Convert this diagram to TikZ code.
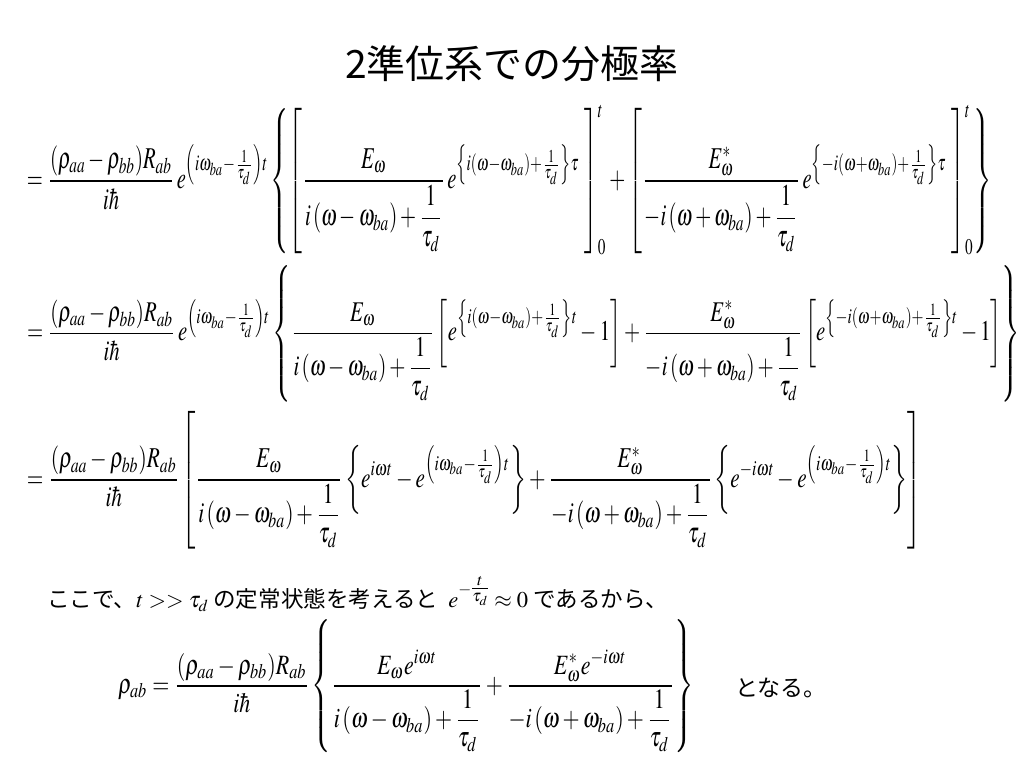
\documentclass[tikz,border=0pt]{standalone}
\usepackage{amsmath}
\usepackage{mathptmx}
\usepackage{graphicx}
\usepackage{fontspec}
\newfontfamily\jp{Noto Sans CJK JP}
\tikzset{
  eq/.style={anchor=north west, inner sep=0pt, outer sep=0pt},
  jptext/.style={anchor=west, inner sep=0pt, font=\jp\fontsize{23}{27}\selectfont},
  titlestyle/.style={inner sep=0pt, font=\jp\fontsize{39}{46}\selectfont}
}
\newcommand{\rhofrac}{\dfrac{(\rho_{aa}-\rho_{bb})R_{ab}}{i\hbar}}
\newcommand{\dnA}{i\left(\omega-\omega_{ba}\right)+\dfrac{1}{\tau_d}}
\newcommand{\dnB}{-i\left(\omega+\omega_{ba}\right)+\dfrac{1}{\tau_d}}
\newcommand{\expA}{e^{\left(i\omega_{ba}-\frac{1}{\tau_d}\right)t}}
\begin{document}
\begin{tikzpicture}[x=1pt,y=-1pt]
\useasboundingbox (0,0) rectangle (1024,768);
\fill[white] (0,0) rectangle (1024,768);

\node[titlestyle] (title) at (512,64) {2準位系での分極率};

\node[eq] (eq1) at (27,105) {\resizebox*{965pt}{150pt}{$\displaystyle
 =\rhofrac\,\expA
 \left\{\left[\frac{E_\omega}{\dnA}\,e^{\left\{i(\omega-\omega_{ba})+\frac{1}{\tau_d}\right\}\tau}\;\right]_0^t
 +\left[\frac{E^*_\omega}{\dnB}\,e^{\left\{-i(\omega+\omega_{ba})+\frac{1}{\tau_d}\right\}\tau}\;\right]_0^t\right\}
 $}};

\node[eq] (eq2) at (27,265) {\resizebox*{993pt}{137pt}{$\displaystyle
 =\rhofrac\,\expA
 \left\{\frac{E_\omega}{\dnA}\left[e^{\left\{i(\omega-\omega_{ba})+\frac{1}{\tau_d}\right\}t}-1\right]
 +\frac{E^*_\omega}{\dnB}\left[e^{\left\{-i(\omega+\omega_{ba})+\frac{1}{\tau_d}\right\}t}-1\right]\right\}
 $}};

\node[eq] (eq3) at (27,411) {\resizebox*{895pt}{138pt}{$\displaystyle
 =\rhofrac
 \left[\frac{E_\omega}{\dnA}\left\{e^{i\omega t}-\expA\right\}
 +\frac{E^*_\omega}{\dnB}\left\{e^{-i\omega t}-\expA\right\}\right]
 $}};

\node[jptext] (line) at (47,594) {\resizebox{621pt}{!}{ここで、$t>>\tau_d$ の定常状態を考えると\ \ $e^{-\textstyle\frac{t}{\tau_d}}\approx 0$ であるから、}};

\node[eq] (eq4) at (118,619) {\resizebox*{576pt}{134pt}{$\displaystyle
 \rho_{ab}=\rhofrac
 \left\{\frac{E_\omega e^{i\omega t}}{\dnA}+\frac{E^*_\omega e^{-i\omega t}}{\dnB}\right\}
 $}};

\node[jptext] (naru) at (735,688) {となる。};
\end{tikzpicture}
\end{document}
